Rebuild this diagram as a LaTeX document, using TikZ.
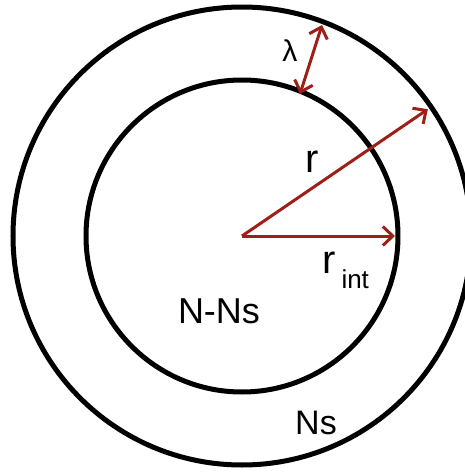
\documentclass[tikz,border=0pt]{standalone}
\usepackage{fontspec}
\setmainfont{Liberation Sans}
\usetikzlibrary{arrows.meta}
\definecolor{arrowred}{HTML}{9E1F18}

\begin{document}
\begin{tikzpicture}[x=1pt, y=1pt,
  ring/.style={draw=black, line width=5pt},
  arr/.style={-{Straight Barb[length=10pt, width=19pt]}, line width=3pt, arrowred},
  dblarr/.style={{Straight Barb[length=10pt, width=19pt]}-{Straight Barb[length=10pt, width=19pt]}, line width=3pt, arrowred},
  lbl/.style={inner sep=0pt, font=\fontsize{36}{36}\selectfont}
]
  \useasboundingbox (-242,-239) rectangle (223,236);

  \coordinate (c) at (0,0);
  \coordinate (rinttip) at (0:153);
  \coordinate (rtip) at (34.3:225);
  \coordinate (lamin) at (58,142);
  \coordinate (lamout) at (80,211);

  % rings
  \draw[ring] (c) circle[radius=229];
  \draw[ring] (c) circle[radius=156];

  % radii
  \draw[arr] (c) -- (rinttip);
  \draw[arr] (c) -- (rtip);
  \draw[dblarr] (lamin) -- (lamout);

  % labels
  \node[lbl, font=\fontsize{30}{30}\selectfont] (lam) at (48,185) {λ};
  \node[lbl, font=\fontsize{40}{40}\selectfont] (r) at (70,74) {r};
  \node[lbl, font=\fontsize{40}{40}\selectfont, anchor=base west] (rint) at (80,-37)
    {r\hspace{6pt}\raisebox{-15pt}{\fontsize{26}{26}\selectfont int}};
  \node[lbl] (inner) at (-23,-75) {N-Ns};
  \node[lbl, font=\fontsize{34}{34}\selectfont] (outer) at (74,-187) {Ns};
\end{tikzpicture}
\end{document}
